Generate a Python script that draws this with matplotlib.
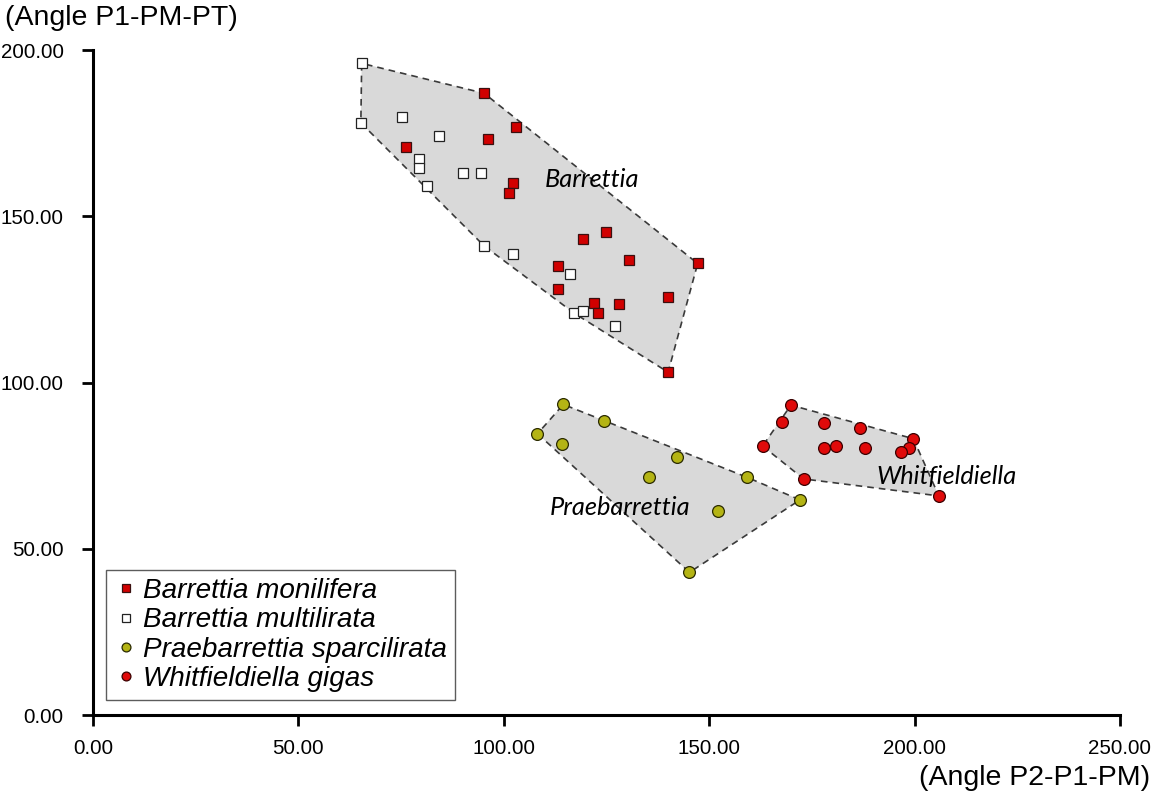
import matplotlib.pyplot as plt
from matplotlib.patches import Polygon
import numpy as np

# Data (x = Angle P2-P1-PM, y = Angle P1-PM-PT)
monilifera_x = [95.2, 103.0, 96.2, 76.2, 102.2, 101.3, 125.0, 119.3, 130.4, 147.2,
                113.1, 113.1, 140.0, 121.9, 128.0, 122.9, 140.0]
monilifera_y = [187.0, 176.9, 173.1, 170.9, 159.9, 157.1, 145.2, 143.2, 137.0, 135.8,
                134.9, 128.0, 125.8, 123.9, 123.7, 120.8, 103.1]

multilirata_x = [65.4, 65.2, 75.1, 84.2, 79.4, 79.4, 81.4, 90.1, 94.4, 95.2,
                 102.3, 116.1, 117.2, 119.2, 127.1]
multilirata_y = [196.0, 178.1, 179.8, 174.1, 167.2, 164.6, 159.1, 162.9, 162.9, 141.1,
                 138.6, 132.5, 120.8, 121.5, 117.0]

sparcilirata_x = [114.5, 124.4, 108.2, 114.2, 142.2, 135.4, 159.2, 172.1, 152.2, 145.2]
sparcilirata_y = [93.4, 88.3, 84.6, 81.5, 77.7, 71.5, 71.5, 64.7, 61.4, 42.9]

gigas_x = [169.9, 167.7, 178.0, 186.8, 199.7, 163.0, 178.0, 180.9, 188.0, 198.6,
           196.7, 173.0, 205.9]
gigas_y = [93.2, 88.1, 87.9, 86.3, 83.1, 80.9, 80.3, 80.8, 80.2, 80.2,
           79.1, 71.0, 65.9]


def convex_hull(xs, ys):
    pts = sorted(set(zip(xs, ys)))

    def cross(o, a, b):
        return (a[0] - o[0]) * (b[1] - o[1]) - (a[1] - o[1]) * (b[0] - o[0])

    lower, upper = [], []
    for p in pts:
        while len(lower) >= 2 and cross(lower[-2], lower[-1], p) <= 0:
            lower.pop()
        lower.append(p)
    for p in reversed(pts):
        while len(upper) >= 2 and cross(upper[-2], upper[-1], p) <= 0:
            upper.pop()
        upper.append(p)
    return np.array(lower[:-1] + upper[:-1])


plt.rcParams['font.family'] = ['Liberation Sans', 'DejaVu Sans']

fig = plt.figure(figsize=(11.57, 7.98), dpi=100)
ax = fig.add_axes([0.0804, 0.104, 0.8876, 0.8333])

# genus hulls
groups = [
    (monilifera_x + multilirata_x, monilifera_y + multilirata_y),
    (sparcilirata_x, sparcilirata_y),
    (gigas_x, gigas_y),
]
for gx, gy in groups:
    hull = convex_hull(gx, gy)
    ax.add_patch(Polygon(hull, closed=True, facecolor='#d9d9d9', edgecolor='#3a3a3a',
                         linestyle=(0, (4, 3)), linewidth=1.2, joinstyle='round', zorder=1))

ax.plot(monilifera_x, monilifera_y, 's', color='#d10000', mec='#3a1010', mew=0.9,
        ms=7.2, label='Barrettia monilifera', zorder=3)
ax.plot(multilirata_x, multilirata_y, 's', color='white', mec='#222222', mew=0.9,
        ms=7.2, label='Barrettia multilirata', zorder=3)
ax.plot(sparcilirata_x, sparcilirata_y, 'o', color='#b4b414', mec='#2a2a00', mew=0.9,
        ms=8.5, label='Praebarrettia sparcilirata', zorder=3)
ax.plot(gigas_x, gigas_y, 'o', color='#e00a0a', mec='#3a0000', mew=0.9,
        ms=8.5, label='Whitfieldiella gigas', zorder=3)

# genus names
gfont = dict(family=['Lato', 'DejaVu Sans'], style='italic', fontsize=18.3, va='center')
ax.text(110.0, 161.0, 'Barrettia', **gfont)
ax.text(111.2, 62.3, 'Praebarrettia', **gfont)
ax.text(190.8, 71.6, 'Whitfieldiella', **gfont)

ax.set_xlim(0, 250)
ax.set_ylim(0, 200)
ax.set_xticks(np.arange(0, 251, 50))
ax.set_yticks(np.arange(0, 201, 50))
ax.set_xticklabels([f'{v:.2f}' for v in np.arange(0, 251, 50)])
ax.set_yticklabels([f'{v:.2f}' for v in np.arange(0, 201, 50)])
ax.tick_params(axis='both', direction='out', length=8, width=2, labelsize=14.8,
               colors='black')
ax.tick_params(axis='x', pad=9)
ax.tick_params(axis='y', pad=13)

for s in ['top', 'right']:
    ax.spines[s].set_visible(False)
for s in ['left', 'bottom']:
    ax.spines[s].set_linewidth(2.2)

fig.text(5 / 1157, 1 - 18 / 798, '(Angle P1-PM-PT)', fontsize=20.5, ha='left', va='center')
fig.text(1150 / 1157, 1 - 778 / 798, '(Angle P2-P1-PM)', fontsize=20.5, ha='right', va='center')

leg = ax.legend(loc='lower left', bbox_to_anchor=(0.013, 0.022), frameon=True, fancybox=False,
                prop={'style': 'italic', 'size': 20.1}, handletextpad=0.2, borderpad=0.3,
                labelspacing=0.12, handlelength=0.8, markerscale=0.75, borderaxespad=0)
leg.get_frame().set_edgecolor('#333333')
leg.get_frame().set_linewidth(1.0)

fig.savefig('out.png', dpi=100, facecolor='white')
